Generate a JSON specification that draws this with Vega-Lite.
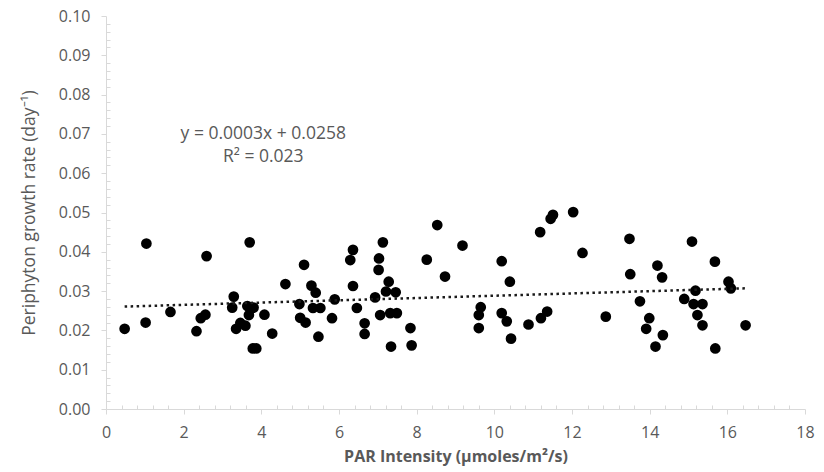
{
  "$schema": "https://vega.github.io/schema/vega-lite/v6.json",
  "width": 699,
  "height": 393,
  "autosize": "none",
  "padding": {"left": 106, "top": 16, "right": 19, "bottom": 63},
  "background": "white",
  "config": {"view": {"stroke": null}},
  "data": {"values": [
    {"x": 0.48, "y": 0.0204}, {"x": 1.04, "y": 0.0421}, {"x": 1.02, "y": 0.0220}, {"x": 1.66, "y": 0.0247},
    {"x": 2.59, "y": 0.0389}, {"x": 2.33, "y": 0.0198}, {"x": 2.44, "y": 0.0231}, {"x": 2.56, "y": 0.0240},
    {"x": 3.70, "y": 0.0424}, {"x": 3.29, "y": 0.0286}, {"x": 3.25, "y": 0.0258}, {"x": 3.64, "y": 0.0262},
    {"x": 3.80, "y": 0.0258}, {"x": 3.68, "y": 0.0239}, {"x": 3.46, "y": 0.0219}, {"x": 3.35, "y": 0.0204},
    {"x": 3.59, "y": 0.0212}, {"x": 3.78, "y": 0.0154}, {"x": 3.87, "y": 0.0154}, {"x": 4.08, "y": 0.0240},
    {"x": 4.28, "y": 0.0192}, {"x": 4.62, "y": 0.0318}, {"x": 5.10, "y": 0.0367}, {"x": 5.29, "y": 0.0314},
    {"x": 5.40, "y": 0.0296}, {"x": 4.98, "y": 0.0267}, {"x": 5.00, "y": 0.0232}, {"x": 5.14, "y": 0.0220},
    {"x": 5.33, "y": 0.0257}, {"x": 5.52, "y": 0.0257}, {"x": 5.47, "y": 0.0184}, {"x": 5.82, "y": 0.0231},
    {"x": 5.89, "y": 0.0279}, {"x": 6.36, "y": 0.0405}, {"x": 6.29, "y": 0.0379}, {"x": 6.36, "y": 0.0313},
    {"x": 6.46, "y": 0.0257}, {"x": 6.66, "y": 0.0218}, {"x": 6.66, "y": 0.0191}, {"x": 7.13, "y": 0.0424},
    {"x": 7.03, "y": 0.0383}, {"x": 7.02, "y": 0.0354}, {"x": 7.28, "y": 0.0324}, {"x": 7.21, "y": 0.0299},
    {"x": 7.46, "y": 0.0297}, {"x": 6.93, "y": 0.0284}, {"x": 7.06, "y": 0.0239}, {"x": 7.32, "y": 0.0244},
    {"x": 7.49, "y": 0.0244}, {"x": 7.34, "y": 0.0159}, {"x": 7.84, "y": 0.0206}, {"x": 7.87, "y": 0.0162},
    {"x": 8.26, "y": 0.0380}, {"x": 8.53, "y": 0.0468}, {"x": 8.73, "y": 0.0337}, {"x": 9.18, "y": 0.0416},
    {"x": 9.65, "y": 0.0259}, {"x": 9.60, "y": 0.0239}, {"x": 9.60, "y": 0.0206}, {"x": 10.19, "y": 0.0376},
    {"x": 10.40, "y": 0.0324}, {"x": 10.19, "y": 0.0244}, {"x": 10.32, "y": 0.0223}, {"x": 10.43, "y": 0.0179},
    {"x": 10.88, "y": 0.0215}, {"x": 11.18, "y": 0.0450}, {"x": 11.45, "y": 0.0484}, {"x": 11.51, "y": 0.0494},
    {"x": 12.03, "y": 0.0501}, {"x": 12.27, "y": 0.0397}, {"x": 11.20, "y": 0.0231}, {"x": 11.36, "y": 0.0248},
    {"x": 12.87, "y": 0.0235}, {"x": 13.48, "y": 0.0433}, {"x": 13.50, "y": 0.0343}, {"x": 13.75, "y": 0.0274},
    {"x": 13.99, "y": 0.0231}, {"x": 13.91, "y": 0.0204}, {"x": 14.34, "y": 0.0188}, {"x": 14.15, "y": 0.0159},
    {"x": 14.20, "y": 0.0365}, {"x": 14.32, "y": 0.0335}, {"x": 15.09, "y": 0.0426}, {"x": 15.68, "y": 0.0375},
    {"x": 14.89, "y": 0.0280}, {"x": 15.18, "y": 0.0301}, {"x": 15.13, "y": 0.0267}, {"x": 15.36, "y": 0.0267},
    {"x": 15.23, "y": 0.0239}, {"x": 15.36, "y": 0.0213}, {"x": 15.69, "y": 0.0154}, {"x": 16.03, "y": 0.0324},
    {"x": 16.09, "y": 0.0307}, {"x": 16.47, "y": 0.0213}
  ]},
  "layer": [
    {
      "mark": {"type": "point", "filled": true, "shape": "circle", "size": 115, "color": "black", "opacity": 1},
      "encoding": {
        "x": {
          "field": "x", "type": "quantitative",
          "scale": {"domain": [0, 18], "nice": false, "zero": false},
          "axis": {
            "title": "PAR Intensity (µmoles/m²/s)",
            "values": [0,0.4,0.8,1.2,1.6,2,2.4,2.8,3.2,3.6,4,4.4,4.8,5.2,5.6,6,6.4,6.8,7.2,7.6,8,8.4,8.8,9.2,9.6,10,10.4,10.8,11.2,11.6,12,12.4,12.8,13.2,13.6,14,14.4,14.8,15.2,15.6,16,16.4,16.8,17.2,17.6,18],
            "tickCount": 200,
            "labelExpr": "datum.value % 2 === 0 ? format(datum.value, 'd') : ''",
            "tickSize": {"condition": {"test": "datum.value % 2 === 0", "value": 5}, "value": -4},
            "labelOverlap": false,
            "labelFlush": false,
            "grid": false,
            "domainColor": "#d9d9d9",
            "tickColor": "#d9d9d9",
            "labelColor": "#595959",
            "labelFont": "Open Sans",
            "labelFontSize": 16,
            "labelPadding": 10,
            "titleFont": "Open Sans",
            "titleFontSize": 16,
            "titleFontWeight": "bold",
            "titleColor": "#595959",
            "titlePadding": 8
          }
        },
        "y": {
          "field": "y", "type": "quantitative",
          "scale": {"domain": [0, 0.1], "nice": false},
          "axis": {
            "title": "Periphyton growth rate (day⁻¹)",
            "values": [0,0.002,0.004,0.006,0.008,0.01,0.012,0.014,0.016,0.018,0.02,0.022,0.024,0.026,0.028,0.03,0.032,0.034,0.036,0.038,0.04,0.042,0.044,0.046,0.048,0.05,0.052,0.054,0.056,0.058,0.06,0.062,0.064,0.066,0.068,0.07,0.072,0.074,0.076,0.078,0.08,0.082,0.084,0.086,0.088,0.09,0.092,0.094,0.096,0.098,0.1],
            "tickCount": 200,
            "labelExpr": "abs(datum.value * 100 - round(datum.value * 100)) < 0.001 ? format(datum.value, '.2f') : ''",
            "tickSize": {"condition": {"test": "abs(datum.value * 100 - round(datum.value * 100)) < 0.001", "value": 5}, "value": -4},
            "labelOverlap": false,
            "labelFlush": false,
            "grid": false,
            "domainColor": "#d9d9d9",
            "tickColor": "#d9d9d9",
            "labelColor": "#595959",
            "labelFont": "Open Sans",
            "labelFontSize": 16,
            "labelPadding": 11,
            "titleFont": "Open Sans",
            "titleFontSize": 17.5,
            "titleFontWeight": "normal",
            "titleColor": "#595959",
            "titlePadding": 20
          }
        }
      }
    },
    {
      "transform": [{"regression": "y", "on": "x"}],
      "mark": {"type": "line", "color": "#1a1a1a", "strokeWidth": 2.5, "strokeDash": [2.5, 3.5], "strokeCap": "butt"},
      "encoding": {
        "x": {"field": "x", "type": "quantitative"},
        "y": {"field": "y", "type": "quantitative"}
      }
    },
    {
      "data": {"values": [
        {"x": 4.05, "y": 0.0700, "label": "y = 0.0003x + 0.0258"},
        {"x": 4.05, "y": 0.0642, "label": "R² = 0.023"}
      ]},
      "mark": {"type": "text", "align": "center", "baseline": "middle", "font": "Open Sans", "fontSize": 17.5, "color": "#595959"},
      "encoding": {
        "x": {"field": "x", "type": "quantitative"},
        "y": {"field": "y", "type": "quantitative"},
        "text": {"field": "label"}
      }
    }
  ]
}
